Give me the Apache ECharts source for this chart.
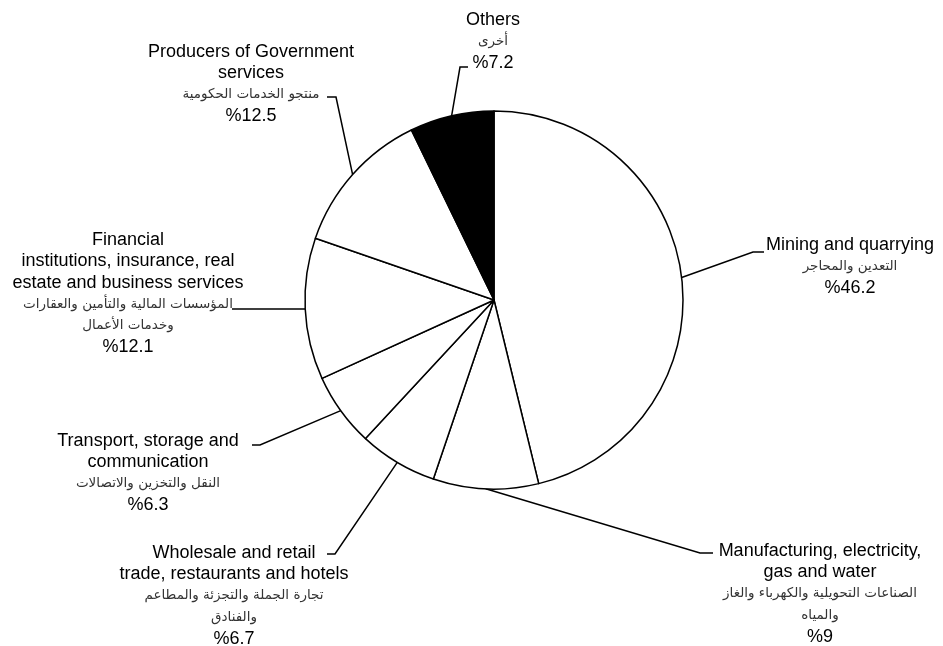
<!DOCTYPE html>
<html>
<head>
<meta charset="utf-8">
<script src="https://cdn.jsdelivr.net/npm/echarts@6/dist/echarts.min.js"></script>
<style>
html,body{margin:0;padding:0;background:#fff;}
#chart{width:943px;height:646px;}
</style>
</head>
<body>
<div id="chart"></div>
<script>
// ---- data ----
const categoriesEn = [
  'Mining and quarrying',
  'Manufacturing, electricity,\ngas and water',
  'Wholesale and retail\ntrade, restaurants and hotels',
  'Transport, storage and\ncommunication',
  'Financial\ninstitutions, insurance, real\nestate and business services',
  'Producers of Government\nservices',
  'Others'
];
const categoriesAr = [
  'التعدين والمحاجر',
  'الصناعات التحويلية والكهرباء والغاز\nوالمياه',
  'تجارة الجملة والتجزئة والمطاعم\nوالفنادق',
  'النقل والتخزين والاتصالات',
  'المؤسسات المالية والتأمين والعقارات\nوخدمات الأعمال',
  'منتجو الخدمات الحكومية',
  'أخرى'
];
const shares = [46.2, 9, 6.7, 6.3, 12.1, 12.5, 7.2];

// ---- styles / layout ----
const sliceColors = ['#ffffff', '#ffffff', '#ffffff', '#ffffff', '#ffffff', '#ffffff', '#000000'];
// label block: centre x, top y, leader bend point, leader end point
const labelBoxes = [
  {x: 850, y: 234, bend: [753, 252], end: [764, 252]},
  {x: 820, y: 540, bend: [700, 553], end: [713, 553]},
  {x: 234, y: 542, bend: [335, 554], end: [327, 554]},
  {x: 148, y: 430, bend: [260, 445], end: [252, 445]},
  {x: 128, y: 229, bend: [240, 309], end: [232, 309]},
  {x: 251, y: 41,  bend: [336, 97],  end: [327, 97]},
  {x: 493, y: 9,   bend: [460, 67],  end: [468, 67]}
];

function wrap(style, text) {
  return text.split('\n').map(t => '{' + style + '|' + t + '}').join('\n');
}

const chart = echarts.init(document.getElementById('chart'), null, {renderer: 'canvas'});
const data = shares.map((v, i) => ({
  value: v,
  name: categoriesEn[i],
  itemStyle: {color: sliceColors[i]}
}));

chart.setOption({
  backgroundColor: '#ffffff',
  animation: false,
  series: [{
    type: 'pie',
    center: [494, 300],
    radius: [0, 189],
    startAngle: 90,
    clockwise: true,
    avoidLabelOverlap: false,
    data: data,
    itemStyle: {borderColor: '#000', borderWidth: 1.5},
    emphasis: {disabled: true},
    label: {
      show: true,
      position: 'outside',
      color: '#000',
      formatter: function (p) {
        const i = p.dataIndex;
        return wrap('en', categoriesEn[i]) + '\n' + wrap('ar', categoriesAr[i]) + '\n{pct|%' + shares[i] + '}';
      },
      rich: {
        en: {fontFamily: 'Liberation Sans, Arial, sans-serif', fontSize: 18, lineHeight: 21.5, color: '#000', align: 'center'},
        ar: {fontFamily: 'DejaVu Sans, sans-serif', fontSize: 13.5, lineHeight: 21.5, color: '#333', align: 'center'},
        pct: {fontFamily: 'Liberation Sans, Arial, sans-serif', fontSize: 18, lineHeight: 21.5, color: '#000', align: 'center'}
      }
    },
    labelLine: {
      show: true,
      lineStyle: {color: '#000', width: 1.5}
    },
    labelLayout: function (params) {
      const b = labelBoxes[params.dataIndex];
      const pts = params.labelLinePoints;
      const start = pts && pts[0] ? pts[0] : b.bend;
      return {
        x: b.x,
        y: b.y,
        align: 'center',
        verticalAlign: 'top',
        labelLinePoints: [start, b.bend, b.end]
      };
    }
  }]
});
</script>
</body>
</html>
